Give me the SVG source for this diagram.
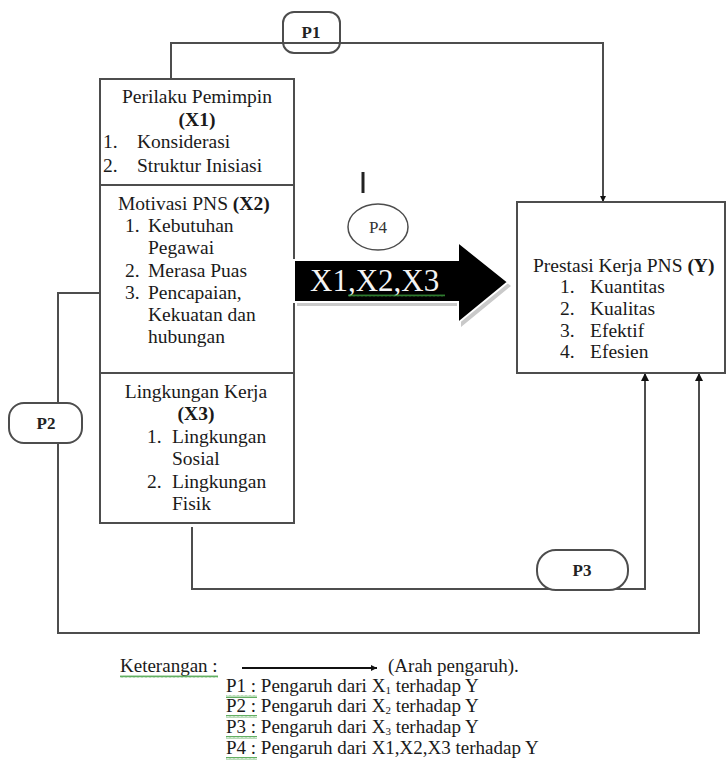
<svg xmlns="http://www.w3.org/2000/svg" width="728" height="766" viewBox="0 0 728 766">
  <style>
    .box{fill:#fff;stroke:#4d4d4d;stroke-width:2}
    .conn{fill:none;stroke:#4d4d4d;stroke-width:2}
    .t{font-family:"Liberation Serif","Times New Roman",serif;font-size:19.5px;fill:#1a1a1a}
    .lg{font-family:"Liberation Serif","Times New Roman",serif;font-size:19px;fill:#1a1a1a}
    .mid{text-anchor:middle}
    .b{font-weight:bold}
    .lab{font-family:"Liberation Serif","Times New Roman",serif;font-size:17px;font-weight:bold;fill:#222;text-anchor:middle}
    .pill{fill:#fff;stroke:#4d4d4d;stroke-width:2}
    .sq{fill:url(#squig)}
  </style>
  <defs>
    <marker id="arr" viewBox="0 0 10 10" refX="10" refY="5" markerWidth="9" markerHeight="8" markerUnits="userSpaceOnUse" orient="auto">
      <path d="M0,0 L10,5 L0,10 z" fill="#111"/>
    </marker>
    <marker id="arrSmall" viewBox="0 0 10 10" refX="10" refY="5" markerWidth="6" markerHeight="6" markerUnits="userSpaceOnUse" orient="auto">
      <path d="M0,0 L10,5 L0,10 z" fill="#111"/>
    </marker>
    <pattern id="squig" width="4" height="3" patternUnits="userSpaceOnUse">
      <path d="M0,2.5 L1,0.5 L2,2.5 L3,0.5 L4,2.5" fill="none" stroke="#3a9a3a" stroke-width="0.8"/>
    </pattern>
  </defs>

  <rect width="728" height="766" fill="#fff"/>

  <!-- connectors -->
  <g id="connectors">
    <path class="conn" d="M171,79 V43 H603 V202" marker-end="url(#arrSmall)"/>
    <path class="conn" d="M100,293 H58 V633 H699 V373" marker-end="url(#arr)"/>
    <path class="conn" d="M192,527 V589 H645 V373" marker-end="url(#arr)"/>
  </g>

  <!-- X1: leader behaviour -->
  <g id="x1">
    <rect class="box" x="100" y="79" width="194" height="106"/>
    <text class="t mid" x="197" y="103">Perilaku Pemimpin</text>
    <text class="t mid b" x="197" y="126">(X1)</text>
    <text class="t" x="103" y="148">1.</text>
    <text class="t" x="137" y="148">Konsiderasi</text>
    <text class="t" x="103" y="172">2.</text>
    <text class="t" x="137" y="172">Struktur Inisiasi</text>
  </g>

  <!-- X2: motivation -->
  <g id="x2">
    <rect class="box" x="100" y="185" width="194" height="188"/>
    <text class="t" x="118" y="210">Motivasi PNS <tspan class="b">(X2)</tspan></text>
    <text class="t" x="125" y="232">1.</text>
    <text class="t" x="148" y="232">Kebutuhan</text>
    <text class="t" x="148" y="254">Pegawai</text>
    <text class="t" x="125" y="277">2.</text>
    <text class="t" x="148" y="277">Merasa Puas</text>
    <text class="t" x="125" y="299">3.</text>
    <text class="t" x="148" y="299">Pencapaian,</text>
    <text class="t" x="148" y="321">Kekuatan dan</text>
    <text class="t" x="148" y="343">hubungan</text>
  </g>

  <!-- X3: work environment -->
  <g id="x3">
    <rect class="box" x="100" y="373" width="194" height="150"/>
    <text class="t mid" x="196" y="398">Lingkungan Kerja</text>
    <text class="t mid b" x="196" y="420">(X3)</text>
    <text class="t" x="147" y="443">1.</text>
    <text class="t" x="172" y="443">Lingkungan</text>
    <text class="t" x="172" y="465">Sosial</text>
    <text class="t" x="147" y="488">2.</text>
    <text class="t" x="172" y="488">Lingkungan</text>
    <text class="t" x="172" y="510">Fisik</text>
  </g>

  <!-- Y: performance -->
  <g id="y">
    <rect class="box" x="517" y="202" width="208" height="171"/>
    <text class="t" x="533" y="272">Prestasi Kerja PNS <tspan class="b">(Y)</tspan></text>
    <text class="t" x="560" y="293">1.</text>
    <text class="t" x="590" y="293">Kuantitas</text>
    <text class="t" x="560" y="315">2.</text>
    <text class="t" x="590" y="315">Kualitas</text>
    <text class="t" x="560" y="337">3.</text>
    <text class="t" x="590" y="337">Efektif</text>
    <text class="t" x="560" y="358">4.</text>
    <text class="t" x="590" y="358">Efesien</text>
  </g>

  <!-- joint effect block arrow -->
  <g id="joint">
    <polygon points="297,264 461,264 461,246 511,286 461,327 461,306 297,306" fill="#c9c9c9"/>
    <polygon points="294,260 458,260 458,242 508,282 458,323 458,302 294,302" fill="#000" stroke="#fff" stroke-width="2"/>
    <text x="310" y="291" font-family="Liberation Serif, Times New Roman, serif" font-size="31" fill="#f4f4f4">X1,X2,X3</text>
    <rect class="sq" x="348" y="294" width="97" height="3"/>
  </g>

  <!-- path labels -->
  <g id="p1">
    <rect x="283" y="12" width="57" height="41" rx="11" fill="none" stroke="#4d4d4d" stroke-width="2"/>
    <text class="lab" x="311" y="38">P1</text>
  </g>
  <g id="p2">
    <rect class="pill" x="9" y="403" width="73" height="40" rx="15"/>
    <text class="lab" x="46" y="429">P2</text>
  </g>
  <g id="p3">
    <rect class="pill" x="537" y="550" width="91" height="40" rx="19"/>
    <text class="lab" x="582" y="576">P3</text>
  </g>
  <g id="p4">
    <ellipse cx="378" cy="227" rx="30" ry="23" fill="#fff" stroke="#4d4d4d" stroke-width="1.5"/>
    <text x="378" y="233" text-anchor="middle" font-family="Liberation Serif, Times New Roman, serif" font-size="17" fill="#333">P4</text>
    <line x1="363" y1="172" x2="363" y2="193" stroke="#222" stroke-width="3"/>
  </g>

  <!-- legend -->
  <g id="legend">
    <text class="lg" x="120" y="672">Keterangan :</text>
    <rect class="sq" x="120" y="675" width="98" height="3"/>
    <line x1="242" y1="668" x2="377" y2="668" stroke="#111" stroke-width="2" marker-end="url(#arrSmall)"/>
    <text class="lg" x="388" y="672">(Arah pengaruh).</text>
    <text class="lg" x="226" y="692">P1 : Pengaruh dari X<tspan font-size="11" dy="2">1</tspan><tspan dy="-2"> terhadap  Y</tspan></text>
    <rect class="sq" x="226" y="695" width="31" height="3"/>
    <text class="lg" x="226" y="712">P2 : Pengaruh dari X<tspan font-size="11" dy="2">2</tspan><tspan dy="-2"> terhadap  Y</tspan></text>
    <rect class="sq" x="226" y="715" width="31" height="3"/>
    <text class="lg" x="226" y="733">P3 : Pengaruh dari X<tspan font-size="11" dy="2">3</tspan><tspan dy="-2"> terhadap  Y</tspan></text>
    <rect class="sq" x="226" y="736" width="31" height="3"/>
    <text class="lg" x="226" y="754">P4 : Pengaruh dari X1,X2,X3 terhadap Y</text>
    <rect class="sq" x="226" y="757" width="31" height="3"/>
  </g>
</svg>
